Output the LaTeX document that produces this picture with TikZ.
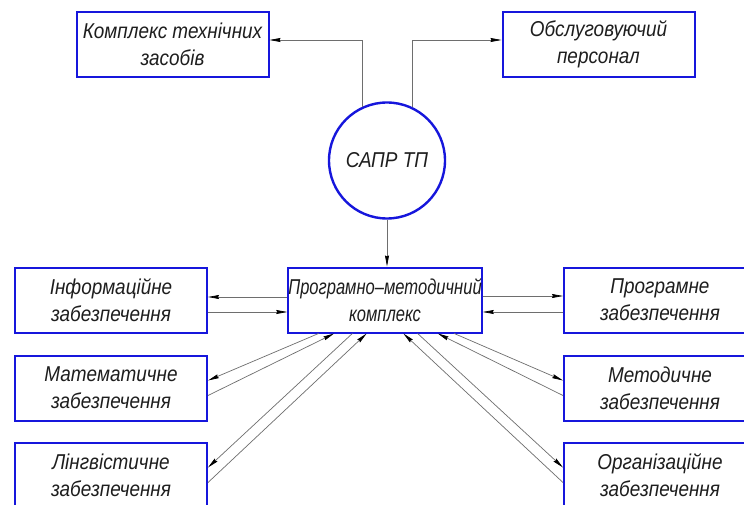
\documentclass[tikz,border=0pt]{standalone}
\usepackage{fontspec}
\setmainfont{Liberation Sans}
\newfontfamily\gostA[FakeStretch=0.88]{Liberation Sans}
\newfontfamily\gostB[FakeStretch=0.77]{Liberation Sans}
\usetikzlibrary{calc,arrows.meta}
\definecolor{bblue}{RGB}{22,22,220}
\definecolor{lgray}{RGB}{110,110,110}
\definecolor{txt}{RGB}{30,30,30}
\newcommand\gostfont{\gostA\itshape\fontsize{21.5}{27}\selectfont}
\newcommand\gostnarrow{\gostB\itshape\fontsize{21.5}{27}\selectfont}
\begin{document}
\begin{tikzpicture}[x=1pt,y=-1pt,
  box/.style={draw=bblue,line width=2pt,minimum width=192pt,minimum height=65pt,inner sep=0pt,align=center,font=\gostfont,text=txt},
  conn/.style={draw=lgray,line width=0.7pt,-{Stealth[length=11pt,width=4pt,inset=1pt,color=black]}}]
\useasboundingbox (0,0) rectangle (744,505);
\fill[white] (0,0) rectangle (744,505);
\clip (0,0) rectangle (744,505);
\node[box] (tl) at (172.5,44.5) {Комплекс технічних\\засобів};
\node[box] (tr) at (598.5,44.5) {Обслуговуючий\\персонал};
\node[draw=bblue,line width=2.4pt,circle,minimum size=116pt,inner sep=0pt,font=\gostfont,text=txt] (c) at (387,160.5) {САПР ТП};
\node[box,font=\gostnarrow] (mid) at (385,300) {Програмно–методичний\\комплекс};
\node[box] (inf) at (111,300) {Інформаційне\\забезпечення};
\node[box] (mat) at (111,388) {Математичне\\забезпечення};
\node[box] (lin) at (111,475) {Лінгвістичне\\забезпечення};
\node[box] (prg) at (660,300) {Програмне\\забезпечення};
\node[box] (met) at (660,388) {Методичне\\забезпечення};
\node[box] (org) at (660,475) {Організаційне\\забезпечення};
\draw[conn] (c.115) |- ($(tl.east)+(0,-4.5)$);
\draw[conn] (c.65) |- ($(tr.west)+(0,-4.5)$);
\draw[conn] (c.south) -- (c.south |- mid.north);
\draw[conn] ($(mid.west)+(0,-3)$) -- ($(inf.east)+(0,-3)$);
\draw[conn] ($(inf.east)+(0,12)$) -- ($(mid.west)+(0,12)$);
\draw[conn] ($(mid.east)+(0,-4)$) -- ($(prg.west)+(0,-4)$);
\draw[conn] ($(prg.west)+(0,12)$) -- ($(mid.east)+(0,12)$);
\draw[conn] ($(mid.south west)!0.16!(mid.south east)$) -- ($(mat.north east)+(0,26)$);
\draw[conn] ($(mat.north east)+(0,41)$) -- ($(mid.south west)!0.24!(mid.south east)$);
\draw[conn] ($(mid.south west)!0.333!(mid.south east)$) -- ($(lin.north east)+(0,26)$);
\draw[conn] ($(lin.north east)+(0,41)$) -- ($(mid.south west)!0.406!(mid.south east)$);
\draw[conn] ($(mid.south west)!0.854!(mid.south east)$) -- ($(met.north west)+(0,26)$);
\draw[conn] ($(met.north west)+(0,41)$) -- ($(mid.south west)!0.77!(mid.south east)$);
\draw[conn] ($(mid.south west)!0.667!(mid.south east)$) -- ($(org.north west)+(0,26)$);
\draw[conn] ($(org.north west)+(0,41)$) -- ($(mid.south west)!0.594!(mid.south east)$);
\end{tikzpicture}
\end{document}
